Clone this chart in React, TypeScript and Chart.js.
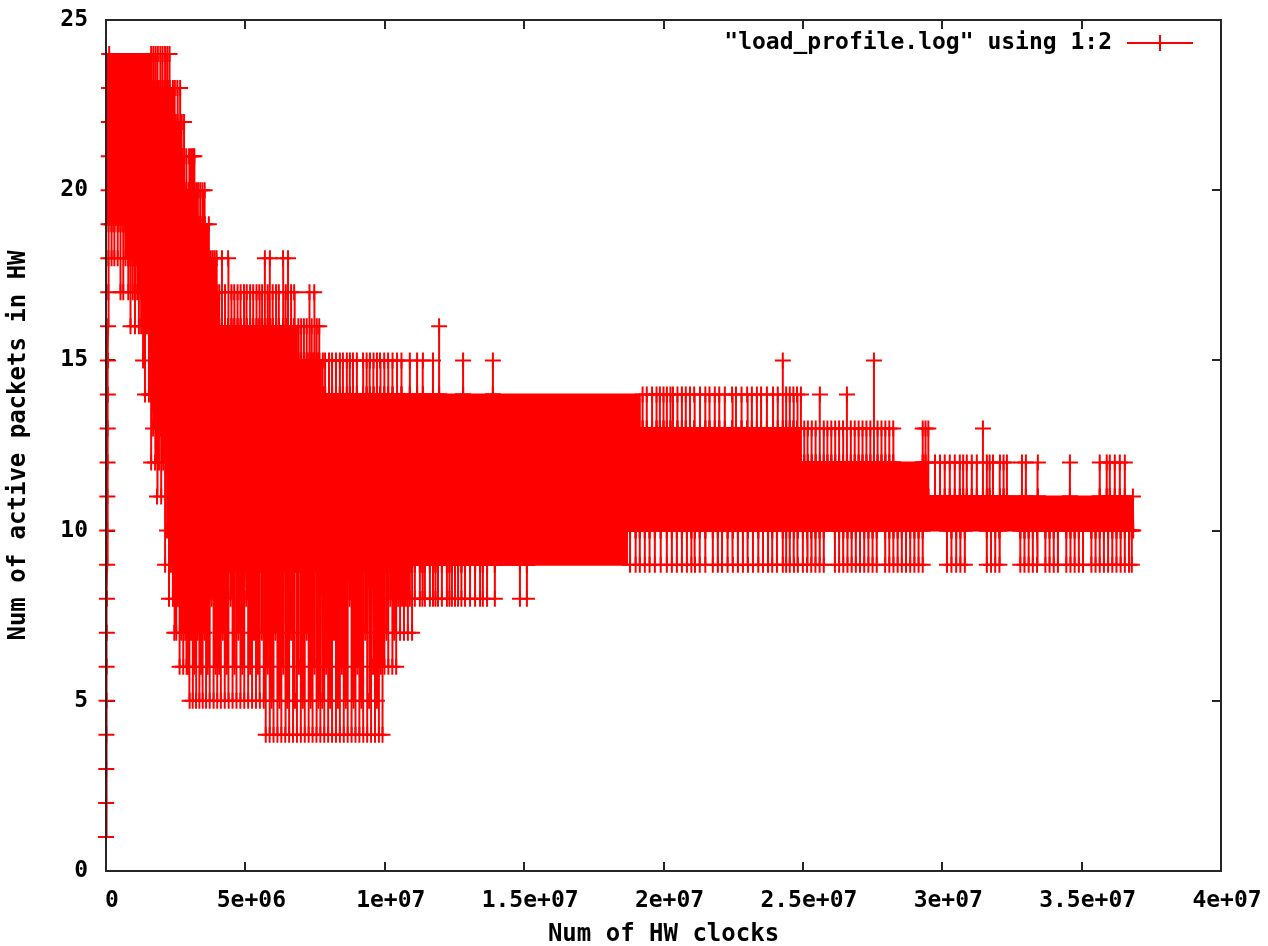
import { useEffect, useRef } from 'react';
import { Chart, registerables } from 'chart.js';

Chart.register(...registerables);

// ---- text ----
const seriesLabel = '"load_profile.log" using 1:2';
const xAxisTitle = 'Num of HW clocks';
const yAxisTitle = 'Num of active packets in HW';
const xTickLabels = ['0', '5e+06', '1e+07', '1.5e+07', '2e+07', '2.5e+07', '3e+07', '3.5e+07', '4e+07'];
const yTickLabels = ['0', '5', '10', '15', '20', '25'];

// ---- data (x in millions of HW clocks, y = active packets) ----
// start-up ramp and final samples: [clocks, packets]
const loadRamp: [number, number][] = [
  [0, 1], [0.005, 2], [0.01, 3], [0.015, 4], [0.02, 5], [0.025, 6], [0.03, 7], [0.035, 8],
  [0.04, 9], [0.045, 10], [0.05, 11], [0.055, 12], [0.06, 13], [0.065, 14], [0.07, 15],
  [0.075, 16], [0.08, 17], [0.085, 18], [0.09, 19], [0.095, 20], [0.1, 21], [0.105, 22],
  [0.11, 23], [0.115, 24],
];
const loadTail: [number, number][] = [[36.84, 11], [36.85, 10]];

// dense band where the samples overlap into a solid area
const coreClocks = [0, 0.75, 1.22, 1.58, 1.94, 2.37, 2.48, 2.62, 2.76, 2.91, 3.08, 3.19, 3.44, 3.66, 3.73, 4.02, 6.85, 7.71, 18.69, 19.15, 24.89, 29.45, 36.85];
const coreUpper = [24, 24, 24, 23, 23, 22, 22, 21, 20, 20, 20, 19, 19, 18, 17, 16, 15, 14, 14, 13, 12, 11, 11];
const coreLower = [19, 18, 17, 14, 13, 13, 12, 12, 12, 11, 10, 10, 9, 9, 9, 9, 9, 9, 10, 10, 10, 10, 10];

// excursions above the band: [clocks, band level, peak]
const upSpikes: [number, number, number][] = [
  [1.62, 23, 24], [1.7, 23, 24], [1.78, 23, 24], [1.86, 23, 24], [1.95, 23, 24], [2.03, 23, 24],
  [2.12, 23, 24], [2.2, 23, 24], [2.28, 23, 24],
  [2.4, 22, 23], [2.47, 22, 23], [2.56, 22, 23], [2.66, 21, 23], [2.72, 21, 22], [2.8, 20, 22],
  [2.88, 20, 21], [2.98, 20, 21], [3.05, 20, 21], [3.12, 20, 21], [3.17, 20, 21], [3.24, 19, 20],
  [3.3, 19, 20], [3.38, 19, 20], [3.46, 19, 20], [3.54, 19, 20], [3.69, 18, 19], [3.76, 17, 18],
  [3.83, 17, 18], [3.9, 17, 18], [3.97, 17, 18],
  [4.06, 16, 17], [4.16, 16, 18], [4.27, 16, 17], [4.38, 16, 18], [4.5, 16, 17], [4.6, 16, 17],
  [4.72, 16, 17], [4.83, 16, 17], [4.95, 16, 17], [5.05, 16, 17], [5.17, 16, 17], [5.28, 16, 17],
  [5.4, 16, 17], [5.5, 16, 17], [5.6, 16, 17], [5.7, 16, 18], [5.8, 16, 17], [5.88, 16, 18],
  [5.98, 16, 17], [6.1, 16, 17], [6.2, 16, 17], [6.35, 16, 18], [6.45, 16, 17], [6.53, 16, 18],
  [6.64, 16, 17], [6.75, 16, 17],
  [6.9, 15, 16], [7.0, 15, 16], [7.1, 15, 16], [7.2, 15, 16], [7.3, 15, 17], [7.38, 15, 16],
  [7.47, 15, 17], [7.56, 15, 16], [7.65, 15, 16],
  [7.78, 14, 15], [7.86, 14, 15], [8.0, 14, 15], [8.11, 14, 15], [8.25, 14, 15], [8.39, 14, 15],
  [8.5, 14, 15], [8.64, 14, 15], [8.75, 14, 15], [8.86, 14, 15], [9.0, 14, 15], [9.22, 14, 15],
  [9.35, 14, 15], [9.47, 14, 15], [9.6, 14, 15], [9.72, 14, 15], [9.83, 14, 15], [9.98, 14, 15],
  [10.12, 14, 15], [10.28, 14, 15], [10.44, 14, 15], [10.6, 14, 15], [10.9, 14, 15], [11.16, 14, 15],
  [11.37, 14, 15], [11.73, 14, 15], [11.95, 14, 16], [12.81, 14, 15], [13.88, 14, 15],
  [19.25, 13, 14], [19.4, 13, 14], [19.59, 13, 14], [19.75, 13, 14], [19.87, 13, 14], [20.0, 13, 14],
  [20.12, 13, 14], [20.25, 13, 14], [20.34, 13, 14], [20.5, 13, 14], [20.66, 13, 14], [20.8, 13, 14],
  [20.95, 13, 14], [21.1, 13, 14], [21.31, 13, 14], [21.5, 13, 14], [21.65, 13, 14], [21.84, 13, 14],
  [22.0, 13, 14], [22.2, 13, 14], [22.46, 13, 14], [22.6, 13, 14], [22.8, 13, 14], [23.0, 13, 14],
  [23.17, 13, 14], [23.35, 13, 14], [23.5, 13, 14], [23.71, 13, 14], [23.93, 13, 14], [24.1, 13, 14],
  [24.28, 13, 15], [24.4, 13, 14], [24.53, 13, 14], [24.66, 13, 14], [24.79, 13, 14],
  [24.93, 12, 14], [25.05, 12, 13], [25.18, 12, 13], [25.32, 12, 13], [25.46, 12, 13], [25.61, 12, 14],
  [25.75, 12, 13], [25.88, 12, 13], [26.02, 12, 13], [26.16, 12, 13], [26.3, 12, 13], [26.44, 12, 13],
  [26.58, 12, 14], [26.72, 12, 13], [26.86, 12, 13], [27.0, 12, 13], [27.14, 12, 13], [27.28, 12, 13],
  [27.42, 12, 13], [27.55, 12, 15], [27.68, 12, 13], [27.82, 12, 13], [27.96, 12, 13], [28.1, 12, 13],
  [28.24, 12, 13], [29.3, 12, 13], [29.4, 12, 13],
  [29.5, 11, 13], [29.74, 11, 12], [29.92, 11, 12], [30.09, 11, 12], [30.27, 11, 12], [30.45, 11, 12],
  [30.63, 11, 12], [30.75, 11, 12], [30.88, 11, 12], [31.06, 11, 12], [31.24, 11, 12], [31.46, 11, 13],
  [31.6, 11, 12], [31.7, 11, 12], [31.82, 11, 12], [32.07, 11, 12], [32.2, 11, 12], [32.32, 11, 12],
  [32.86, 11, 12], [33.0, 11, 12], [33.43, 11, 12], [34.58, 11, 12], [35.65, 11, 12], [35.9, 11, 12],
  [36.01, 11, 12], [36.19, 11, 12], [36.37, 11, 12], [36.55, 11, 12],
];

// excursions below the band: [clocks, band level, trough]
const downSpikes: [number, number, number][] = [
  [0.2, 19, 18], [0.3, 19, 18], [0.42, 19, 18], [0.52, 19, 17], [0.62, 19, 17], [0.7, 19, 18],
  [0.8, 18, 17], [0.88, 18, 16], [0.96, 18, 17], [1.04, 18, 16], [1.12, 18, 17], [1.18, 18, 16],
  [1.26, 17, 16], [1.33, 17, 15], [1.4, 17, 14], [1.47, 17, 16], [1.54, 17, 14],
  [1.62, 14, 12], [1.69, 14, 13], [1.76, 14, 12], [1.83, 14, 11], [1.9, 14, 12],
  [1.98, 13, 11], [2.05, 13, 12], [2.12, 13, 9], [2.19, 13, 10], [2.26, 13, 8], [2.33, 13, 9],
  [2.4, 13, 8], [2.45, 13, 7],
  [2.52, 12, 7], [2.58, 12, 8], [2.64, 12, 6], [2.7, 12, 7], [2.77, 12, 6], [2.84, 12, 7], [2.89, 12, 6],
  [2.94, 11, 6], [3.0, 11, 5], [3.05, 11, 7],
  [3.11, 10, 5], [3.17, 10, 6], [3.23, 10, 5], [3.29, 10, 7], [3.35, 10, 5], [3.41, 10, 6],
  [3.47, 9, 5], [3.53, 9, 7], [3.59, 9, 5], [3.65, 9, 6], [3.72, 9, 5], [3.79, 9, 8], [3.86, 9, 5],
  [3.93, 9, 6], [3.99, 9, 5],
  [4.06, 9, 6], [4.12, 9, 5], [4.19, 9, 7], [4.26, 9, 5], [4.33, 9, 6], [4.4, 9, 5], [4.47, 9, 8],
  [4.54, 9, 5], [4.61, 9, 6], [4.68, 9, 5], [4.75, 9, 7], [4.82, 9, 5], [4.89, 9, 6], [4.96, 9, 5],
  [5.03, 9, 8], [5.1, 9, 5], [5.17, 9, 6], [5.24, 9, 5], [5.31, 9, 7], [5.38, 9, 5], [5.45, 9, 6],
  [5.52, 9, 5], [5.59, 9, 7], [5.66, 9, 5], [5.73, 9, 4], [5.8, 9, 6], [5.87, 9, 4], [5.94, 9, 5],
  [6.01, 9, 4], [6.08, 9, 7], [6.15, 9, 4], [6.22, 9, 5], [6.29, 9, 4], [6.36, 9, 6], [6.43, 9, 4],
  [6.5, 9, 5], [6.57, 9, 4], [6.64, 9, 7], [6.71, 9, 4], [6.78, 9, 5],
  [6.85, 9, 4], [6.92, 9, 6], [6.99, 9, 4], [7.06, 9, 5], [7.13, 9, 4], [7.2, 9, 7], [7.27, 9, 4],
  [7.34, 9, 5], [7.41, 9, 4], [7.48, 9, 6], [7.55, 9, 4], [7.62, 9, 5], [7.69, 9, 4],
  [7.76, 9, 5], [7.83, 9, 4], [7.9, 9, 6], [7.97, 9, 4], [8.04, 9, 5], [8.11, 9, 4], [8.18, 9, 7],
  [8.25, 9, 4], [8.32, 9, 5], [8.39, 9, 4], [8.46, 9, 6], [8.53, 9, 4], [8.6, 9, 5], [8.67, 9, 4],
  [8.74, 9, 8], [8.81, 9, 4], [8.88, 9, 5], [8.95, 9, 4], [9.02, 9, 6], [9.09, 9, 4], [9.16, 9, 5],
  [9.23, 9, 4], [9.3, 9, 7], [9.37, 9, 4], [9.44, 9, 5], [9.51, 9, 4], [9.58, 9, 6], [9.65, 9, 4],
  [9.72, 9, 5], [9.79, 9, 4], [9.86, 9, 6], [9.92, 9, 4],
  [9.99, 9, 6], [10.06, 9, 7], [10.13, 9, 6], [10.2, 9, 8], [10.27, 9, 6], [10.34, 9, 7], [10.41, 9, 6],
  [10.48, 9, 8], [10.55, 9, 7], [10.62, 9, 8], [10.69, 9, 7], [10.76, 9, 8], [10.83, 9, 7], [10.9, 9, 8],
  [10.98, 9, 7], [11.08, 9, 8],
  [11.26, 9, 8], [11.35, 9, 8], [11.44, 9, 8], [11.62, 9, 8], [11.73, 9, 8], [11.82, 9, 8], [11.91, 9, 8],
  [12.05, 9, 8], [12.23, 9, 8], [12.32, 9, 8], [12.41, 9, 8], [12.52, 9, 8], [12.63, 9, 8], [12.75, 9, 8],
  [12.88, 9, 8], [13.06, 9, 8], [13.24, 9, 8], [13.42, 9, 8], [13.52, 9, 8], [13.67, 9, 8], [13.95, 9, 8],
  [14.85, 9, 8], [15.1, 9, 8],
  [18.8, 10, 9], [19.0, 10, 9], [19.15, 10, 9], [19.33, 10, 9], [19.5, 10, 9], [19.69, 10, 9],
  [19.9, 10, 9], [20.12, 10, 9], [20.3, 10, 9], [20.48, 10, 9], [20.66, 10, 9], [20.84, 10, 9],
  [21.0, 10, 9], [21.13, 10, 9], [21.3, 10, 9], [21.5, 10, 9], [21.77, 10, 9], [21.95, 10, 9],
  [22.1, 10, 9], [22.3, 10, 9], [22.49, 10, 9], [22.67, 10, 9], [22.85, 10, 9], [23.03, 10, 9],
  [23.21, 10, 9], [23.4, 10, 9], [23.57, 10, 9], [23.75, 10, 9], [23.9, 10, 9], [24.07, 10, 9],
  [24.28, 10, 9], [24.4, 10, 9], [24.53, 10, 9], [24.68, 10, 9], [24.82, 10, 9],
  [25.0, 10, 9], [25.15, 10, 9], [25.3, 10, 9], [25.45, 10, 9], [25.6, 10, 9], [25.75, 10, 9],
  [26.15, 10, 9], [26.3, 10, 9], [26.45, 10, 9], [26.6, 10, 9], [26.75, 10, 9], [26.9, 10, 9],
  [27.05, 10, 9], [27.2, 10, 9], [27.35, 10, 9], [27.5, 10, 9], [27.65, 10, 9], [27.95, 10, 9],
  [28.1, 10, 9], [28.25, 10, 9], [28.4, 10, 9], [28.55, 10, 9], [28.7, 10, 9], [28.85, 10, 9],
  [29.0, 10, 9], [29.15, 10, 9], [29.3, 10, 9],
  [30.17, 10, 9], [30.33, 10, 9], [30.5, 10, 9], [30.65, 10, 9], [30.81, 10, 9], [31.6, 10, 9],
  [31.75, 10, 9], [31.9, 10, 9], [32.05, 10, 9], [32.8, 10, 9], [32.95, 10, 9], [33.1, 10, 9],
  [33.25, 10, 9], [33.4, 10, 9], [33.7, 10, 9], [33.85, 10, 9], [34.0, 10, 9], [34.15, 10, 9],
  [34.45, 10, 9], [34.6, 10, 9], [34.75, 10, 9], [34.9, 10, 9], [35.05, 10, 9], [35.35, 10, 9],
  [35.5, 10, 9], [35.65, 10, 9], [35.8, 10, 9], [35.95, 10, 9], [36.1, 10, 9], [36.25, 10, 9],
  [36.4, 10, 9], [36.55, 10, 9], [36.7, 10, 9], [36.8, 10, 9],
];

// ---- style ----
const RED = '#ff0000';
const INK = '#000000';
const FRAME = '#262626';
const FONT_FAMILY = '"DejaVu Sans Mono", monospace';
const FONT_SIZE = 23;
const TITLE_SIZE = 24;
const TICK_LEN = 9;

const gnuplotDecor = {
  id: 'gnuplotDecor',
  beforeDatasetsDraw(chart: any) {
    const { ctx, chartArea, scales } = chart;
    const { left, right, top, bottom } = chartArea;
    ctx.save();
    ctx.strokeStyle = FRAME;
    ctx.lineWidth = 2;
    ctx.beginPath();
    scales.x.ticks.forEach((t: any) => {
      const px = Math.round(scales.x.getPixelForValue(t.value));
      ctx.moveTo(px, bottom);
      ctx.lineTo(px, bottom - TICK_LEN);
      ctx.moveTo(px, top);
      ctx.lineTo(px, top + TICK_LEN);
    });
    scales.y.ticks.forEach((t: any) => {
      const py = Math.round(scales.y.getPixelForValue(t.value));
      ctx.moveTo(left, py);
      ctx.lineTo(left + TICK_LEN, py);
      ctx.moveTo(right, py);
      ctx.lineTo(right - TICK_LEN, py);
    });
    ctx.stroke();
    ctx.restore();
  },
  afterDatasetsDraw(chart: any) {
    const { ctx, chartArea } = chart;
    const { left, right, top, bottom } = chartArea;
    ctx.save();
    ctx.strokeStyle = FRAME;
    ctx.lineWidth = 2;
    ctx.strokeRect(left, top, right - left, bottom - top);

    // key, inside the plot at the top right
    const ds = chart.data.datasets[0];
    const ly = top + 23;
    ctx.font = `bold ${FONT_SIZE}px ${FONT_FAMILY}`;
    ctx.fillStyle = INK;
    ctx.textAlign = 'right';
    ctx.textBaseline = 'middle';
    ctx.fillText(ds.label, right - 109, ly);
    const x0 = right - 94;
    const x1 = right - 28;
    const xm = (x0 + x1) / 2;
    ctx.strokeStyle = ds.borderColor;
    ctx.lineWidth = 2;
    ctx.beginPath();
    ctx.moveTo(x0, ly);
    ctx.lineTo(x1, ly);
    ctx.moveTo(xm, ly - 8);
    ctx.lineTo(xm, ly + 8);
    ctx.stroke();
    ctx.restore();
  },
};

export default function App() {
  const canvasRef = useRef<HTMLCanvasElement | null>(null);

  useEffect(() => {
    const canvas = canvasRef.current;
    if (!canvas) return;

    // each excursion: leave the band, reach the peak, come back to the band
    const excursions = [...upSpikes, ...downSpikes].sort((a, b) => a[0] - b[0]);
    const series = [
      ...loadRamp.map(([x, y]) => ({ x, y })),
      ...excursions.flatMap(([x, band, peak]) => [
        { x, y: band },
        { x, y: peak },
        { x, y: band },
      ]),
      ...loadTail.map(([x, y]) => ({ x, y })),
    ];
    const font = { family: FONT_FAMILY, size: FONT_SIZE, weight: 'bold' as const };
    const titleFont = { family: FONT_FAMILY, size: TITLE_SIZE, weight: 'bold' as const, lineHeight: 0.9 };

    const chart = new Chart(canvas, {
      type: 'scatter',
      data: {
        datasets: [
          {
            label: seriesLabel,
            data: series,
            showLine: true,
            borderColor: RED,
            backgroundColor: RED,
            borderWidth: 2,
            pointStyle: 'cross',
            pointRadius: 8,
            pointHoverRadius: 8,
            pointBorderWidth: 2,
            pointBorderColor: RED,
            fill: false,
            clip: false as any,
            order: 0,
          },
          {
            label: 'band-upper',
            data: coreClocks.map((x, i) => ({ x, y: coreUpper[i] })),
            showLine: true,
            stepped: true,
            borderColor: RED,
            backgroundColor: RED,
            borderWidth: 2,
            pointRadius: 0,
            fill: '+1',
            order: 1,
          },
          {
            label: 'band-lower',
            data: coreClocks.map((x, i) => ({ x, y: coreLower[i] })),
            showLine: true,
            stepped: true,
            borderColor: RED,
            backgroundColor: RED,
            borderWidth: 2,
            pointRadius: 0,
            fill: false,
            order: 2,
          },
        ],
      },
      options: {
        animation: false,
        responsive: false,
        devicePixelRatio: 1,
        events: [],
        layout: { autoPadding: false, padding: { left: 0, top: 20, right: 47, bottom: 0 } },
        plugins: {
          legend: { display: false },
          tooltip: { enabled: false },
        },
        scales: {
          x: {
            type: 'linear',
            min: 0,
            max: 40,
            grid: { display: false, drawTicks: false },
            border: { display: false },
            ticks: {
              stepSize: 5,
              autoSkip: false,
              maxRotation: 0,
              padding: 16,
              labelOffset: 6,
              color: INK,
              font,
              callback: (_v: any, i: number) => xTickLabels[i],
            },
            title: {
              display: true,
              text: xAxisTitle,
              color: INK,
              font: titleFont,
              padding: { top: 0, bottom: 0 },
            },
            afterFit: (scale: any) => {
              scale.height = 75;
              scale.paddingLeft = 0;
              scale.paddingRight = 0;
            },
          },
          y: {
            type: 'linear',
            min: 0,
            max: 25,
            grid: { display: false, drawTicks: false },
            border: { display: false },
            ticks: {
              stepSize: 5,
              autoSkip: false,
              padding: 18,
              color: INK,
              font,
              callback: (_v: any, i: number) => yTickLabels[i],
            },
            title: {
              display: true,
              text: yAxisTitle,
              color: INK,
              font: titleFont,
              padding: { top: 8, bottom: 0 },
            },
            afterFit: (scale: any) => {
              scale.width = 106;
              scale.paddingTop = 0;
              scale.paddingBottom = 0;
            },
          },
        },
      },
      plugins: [gnuplotDecor],
    });

    return () => chart.destroy();
  }, []);

  return (
    <div style={{ position: 'fixed', left: 0, top: 0, width: 1268, height: 946, background: '#ffffff' }}>
      <canvas ref={canvasRef} width={1268} height={946} style={{ width: 1268, height: 946, display: 'block' }} />
    </div>
  );
}
